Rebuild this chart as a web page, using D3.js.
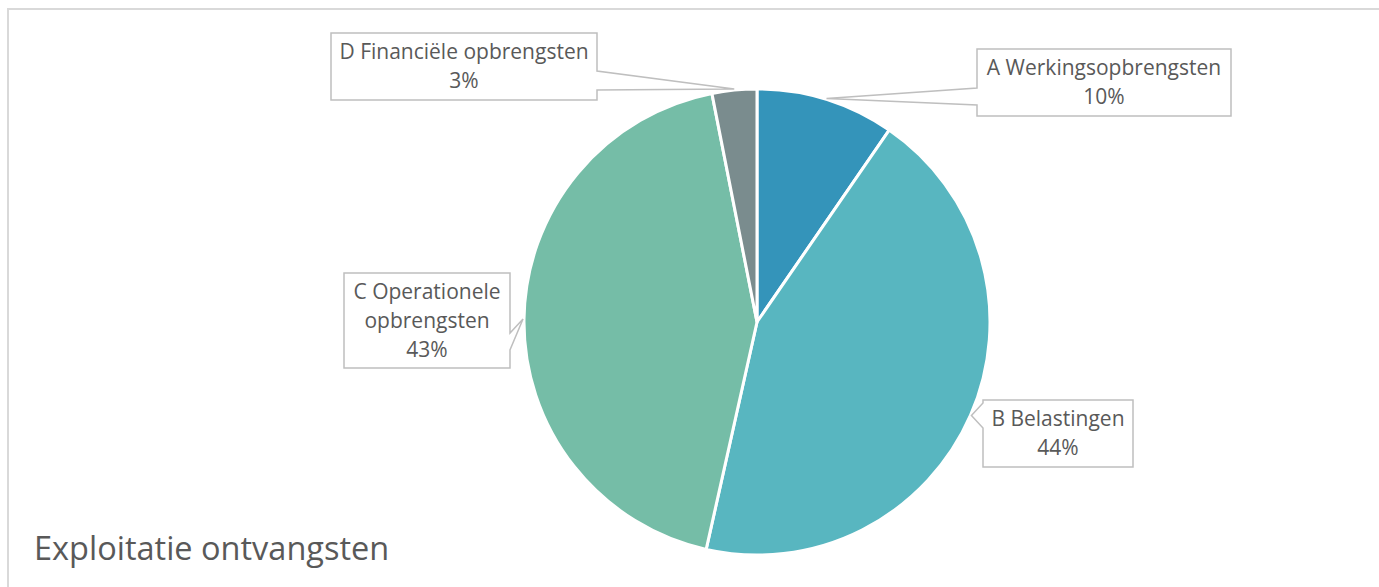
<!DOCTYPE html>
<html>
<head>
<meta charset="utf-8">
<script src="https://cdn.jsdelivr.net/npm/d3@7"></script>
<style>
  body { margin: 0; background: #fff; }
  text { font-family: "Open Sans", sans-serif; fill: #595959; }
</style>
</head>
<body>
<div id="chart"></div>
<script>
const categories = ["A Werkingsopbrengsten", "B Belastingen", "C Operationele opbrengsten", "D Financiële opbrengsten"];
const values = [9.6, 43.9, 43.4, 3.1];
const colors = ["#3494BA", "#58B6C0", "#75BDA7", "#7A8C8E"];

const width = 1379;
const height = 587;
const cx = 757, cy = 322;
const radius = 233;

// callout boxes (layout only): x, y, w, h, side of wedge, wedge base y range, text lines
const boxes = [
  { x: 977, y: 49, w: 254, h: 67, side: "left", b0: 88, b1: 105, lines: ["A Werkingsopbrengsten"] },
  { x: 983, y: 400, w: 150, h: 67, side: "left", b0: 403, b1: 428, lines: ["B Belastingen"] },
  { x: 344, y: 273, w: 166, h: 95, side: "right", b0: 333, b1: 350, lines: ["C Operationele", "opbrengsten"] },
  { x: 331, y: 33, w: 266, h: 67, side: "right", b0: 71, b1: 90, lines: ["D Financiële opbrengsten"] }
];

const svg = d3.select("#chart")
  .append("svg")
  .attr("width", width)
  .attr("height", height);

// chart border (only top & left visible)
svg.append("path")
  .attr("d", `M8,${height} L8,9 L${width},9`)
  .attr("fill", "none")
  .attr("stroke", "#d9d9d9")
  .attr("stroke-width", 2);

const data = categories.map((c, i) => ({ label: c, value: values[i], color: colors[i] }));

const pie = d3.pie().value(d => d.value).sort(null);
const arc = d3.arc().outerRadius(radius).innerRadius(0);

const g = svg.append("g").attr("transform", `translate(${cx},${cy})`);

const arcs = pie(data);

g.selectAll(".slice")
  .data(arcs)
  .enter().append("path")
  .attr("class", "slice")
  .attr("d", arc)
  .attr("fill", d => d.data.color)
  .attr("stroke", "#fff")
  .attr("stroke-width", 3)
  .attr("stroke-linejoin", "round");

// callouts
arcs.forEach((d, i) => {
  const b = boxes[i];
  const mid = (d.startAngle + d.endAngle) / 2;
  const tx = cx + Math.sin(mid) * (radius + 1);
  const ty = cy - Math.cos(mid) * (radius + 1);
  const x0 = b.x, x1 = b.x + b.w, y0 = b.y, y1 = b.y + b.h;
  let p;
  if (b.side === "left") {
    p = `M${x0},${y0} L${x1},${y0} L${x1},${y1} L${x0},${y1} L${x0},${b.b1} L${tx},${ty} L${x0},${b.b0} Z`;
  } else {
    p = `M${x0},${y0} L${x1},${y0} L${x1},${b.b0} L${tx},${ty} L${x1},${b.b1} L${x1},${y1} L${x0},${y1} Z`;
  }
  svg.append("path")
    .attr("d", p)
    .attr("fill", "#fff")
    .attr("stroke", "#bfbfbf")
    .attr("stroke-width", 1.5);

  const lines = b.lines.concat([Math.round(d.data.value) + "%"]);
  const lh = 29;
  const startY = b.y + b.h / 2 - (lines.length - 1) * lh / 2;
  const t = svg.append("text")
    .attr("text-anchor", "middle")
    .style("font-size", "21px");
  lines.forEach((ln, k) => {
    t.append("tspan")
      .attr("x", b.x + b.w / 2)
      .attr("y", startY + k * lh)
      .attr("dy", "0.35em")
      .text(ln);
  });
});

svg.append("text")
  .attr("x", 34)
  .attr("y", 560)
  .style("font-size", "32.5px")
  .text("Exploitatie ontvangsten");
</script>
</body>
</html>
